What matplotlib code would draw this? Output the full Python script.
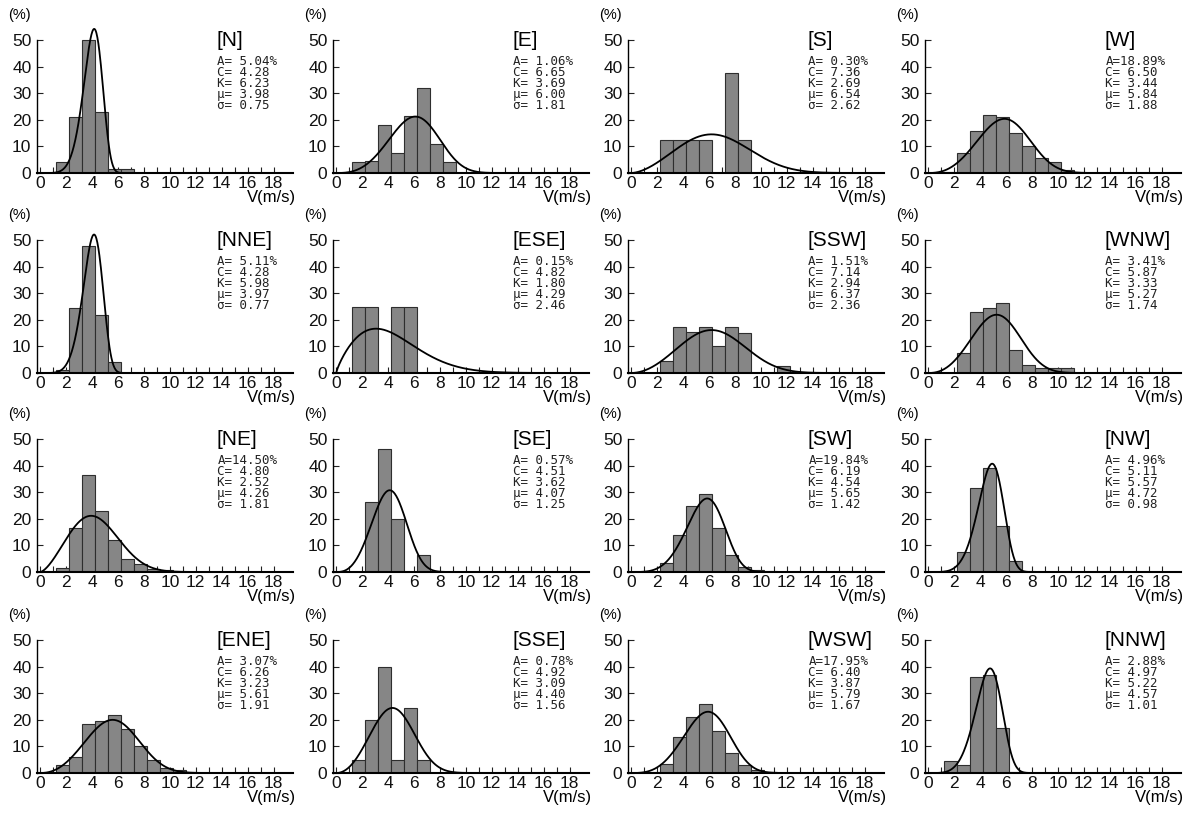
import numpy as np
import matplotlib
matplotlib.use('Agg')
import matplotlib.pyplot as plt
from matplotlib import font_manager

# direction names, in panel order (row by row)
names = ['N', 'E', 'S', 'W',
         'NNE', 'ESE', 'SSW', 'WNW',
         'NE', 'SE', 'SW', 'NW',
         'ENE', 'SSE', 'WSW', 'NNW']

# occurrence rate (%), Weibull C, K, mean and std
A_pct = [5.04, 1.06, 0.30, 18.89, 5.11, 0.15, 1.51, 3.41,
         14.50, 0.57, 19.84, 4.96, 3.07, 0.78, 17.95, 2.88]
C_par = [4.28, 6.65, 7.36, 6.50, 4.28, 4.82, 7.14, 5.87,
         4.80, 4.51, 6.19, 5.11, 6.26, 4.92, 6.40, 4.97]
K_par = [6.23, 3.69, 2.69, 3.44, 5.98, 1.80, 2.94, 3.33,
         2.52, 3.62, 4.54, 5.57, 3.23, 3.09, 3.87, 5.22]
mu_v = [3.98, 6.00, 6.54, 5.84, 3.97, 4.29, 6.37, 5.27,
        4.26, 4.07, 5.65, 4.72, 5.61, 4.40, 5.79, 4.57]
sd_v = [0.75, 1.81, 2.62, 1.88, 0.77, 2.46, 2.36, 1.74,
        1.81, 1.25, 1.42, 0.98, 1.91, 1.56, 1.67, 1.01]

# frequency (%) per 1 m/s class, starting at class 0-1
freq_N = [0, 4, 21, 50, 23, 1.5, 1.5]
freq_E = [0, 4, 4.5, 18, 7.5, 21.5, 32, 11, 4]
freq_S = [0, 0, 12.5, 12.5, 12.5, 12.5, 0, 37.5, 12.5]
freq_W = [0, 0.5, 7.5, 16, 22, 21, 15, 10, 5.5, 4, 1]
freq_NNE = [0, 1, 24.5, 48, 22, 4]
freq_ESE = [0, 25, 25, 0, 25, 25]
freq_SSW = [0, 0, 4.5, 17.5, 15.5, 17.5, 10, 17.5, 15, 0, 0, 2.5]
freq_WNW = [0, 0, 7.5, 23, 24.5, 26.5, 8.5, 3, 2, 2, 2]
freq_NE = [0, 1.5, 16.5, 36.5, 23, 12, 5, 3, 1, 0.7]
freq_SE = [0, 0, 26.5, 46.5, 20, 0, 6.5]
freq_SW = [0, 0.5, 3.5, 14, 25, 29.5, 16.5, 6.5, 2, 0.7, 0.3]
freq_NW = [0, 0.5, 7.5, 31.5, 39, 17.5, 4, 0.5]
freq_ENE = [0, 3, 6, 18.5, 19.5, 22, 16.5, 10, 5, 2, 1]
freq_SSE = [0, 5, 20, 40, 5, 24.5, 5]
freq_WSW = [0, 0.5, 3.5, 13.5, 21, 26, 16, 7.5, 3, 1, 0.5]
freq_NNW = [0, 4.5, 3, 36, 37, 17, 0.5]

freqs = [freq_N, freq_E, freq_S, freq_W, freq_NNE, freq_ESE, freq_SSW, freq_WNW,
         freq_NE, freq_SE, freq_SW, freq_NW, freq_ENE, freq_SSE, freq_WSW, freq_NNW]

x_ticks = list(range(0, 19, 2))
y_ticks = [0, 10, 20, 30, 40, 50]

avail = {f.name for f in font_manager.fontManager.ttflist}
sans = 'Liberation Sans' if 'Liberation Sans' in avail else 'DejaVu Sans'
mono = 'DejaVu Sans Mono'

W, H = 1185, 816
col_left = [37, 333, 628, 925]     # pixel x of y axis
row_zero = [173, 373, 572, 773]    # pixel y of x axis
ax_w, ax_h = 256, 146

fig = plt.figure(figsize=(W / 100, H / 100), dpi=100)

xs = np.linspace(0.001, 19.3, 500)

for i, name in enumerate(names):
    r, c = divmod(i, 4)
    ax = fig.add_axes([col_left[c] / W, (H - row_zero[r]) / H, ax_w / W, ax_h / H])

    f = freqs[i]
    bins = np.arange(len(f))
    ax.bar(bins + 0.25, f, width=1.0, align='edge', color='#868686',
           edgecolor='#2e2e2e', linewidth=0.8, zorder=2)

    # Weibull fit curve (% per 1 m/s class)
    cc, kk = C_par[i], K_par[i]
    pdf = (kk / cc) * (xs / cc) ** (kk - 1) * np.exp(-(xs / cc) ** kk) * 100
    ax.plot(xs, pdf, color='black', lw=1.3, zorder=3)

    ax.set_xlim(-0.25, 19.5)
    ax.set_ylim(0, 55)
    for s in ['top', 'right']:
        ax.spines[s].set_visible(False)
    ax.spines['left'].set_bounds(0, 50)
    ax.spines['left'].set_linewidth(1.0)
    ax.spines['bottom'].set_linewidth(1.5)

    ax.set_xticks(x_ticks)
    ax.set_xticks(range(0, 19), minor=True)
    ax.set_yticks(y_ticks)
    ax.tick_params(axis='both', which='both', direction='in', length=4.5,
                   width=0.8, colors='#222222')
    ax.tick_params(axis='x', pad=2)
    ax.tick_params(axis='y', pad=4)
    for lab in ax.get_xticklabels() + ax.get_yticklabels():
        lab.set_fontfamily(sans)
        lab.set_fontsize(12.5)
        lab.set_color('#111111')

    ax.text(-0.07, 1.08, '(%)', transform=ax.transAxes, ha='center',
            va='center', fontsize=10.5, family=sans)
    ax.text(1.01, -0.118, 'V(m/s)', transform=ax.transAxes, ha='right',
            va='top', fontsize=12, family=sans)

    ax.text(0.70, 0.905, '[' + name + ']', transform=ax.transAxes,
            ha='left', va='center', fontsize=15, family=sans)
    stats = '\n'.join(['A=%5.2f%%' % A_pct[i],
                       'C=%5.2f' % C_par[i],
                       'K=%5.2f' % K_par[i],
                       'μ=%5.2f' % mu_v[i],
                       'σ=%5.2f' % sd_v[i]])
    ax.text(0.705, 0.81, stats, transform=ax.transAxes, ha='left', va='top',
            fontsize=9, family=mono, color='#222222', linespacing=0.8)

fig.savefig('out.png', dpi=100)
